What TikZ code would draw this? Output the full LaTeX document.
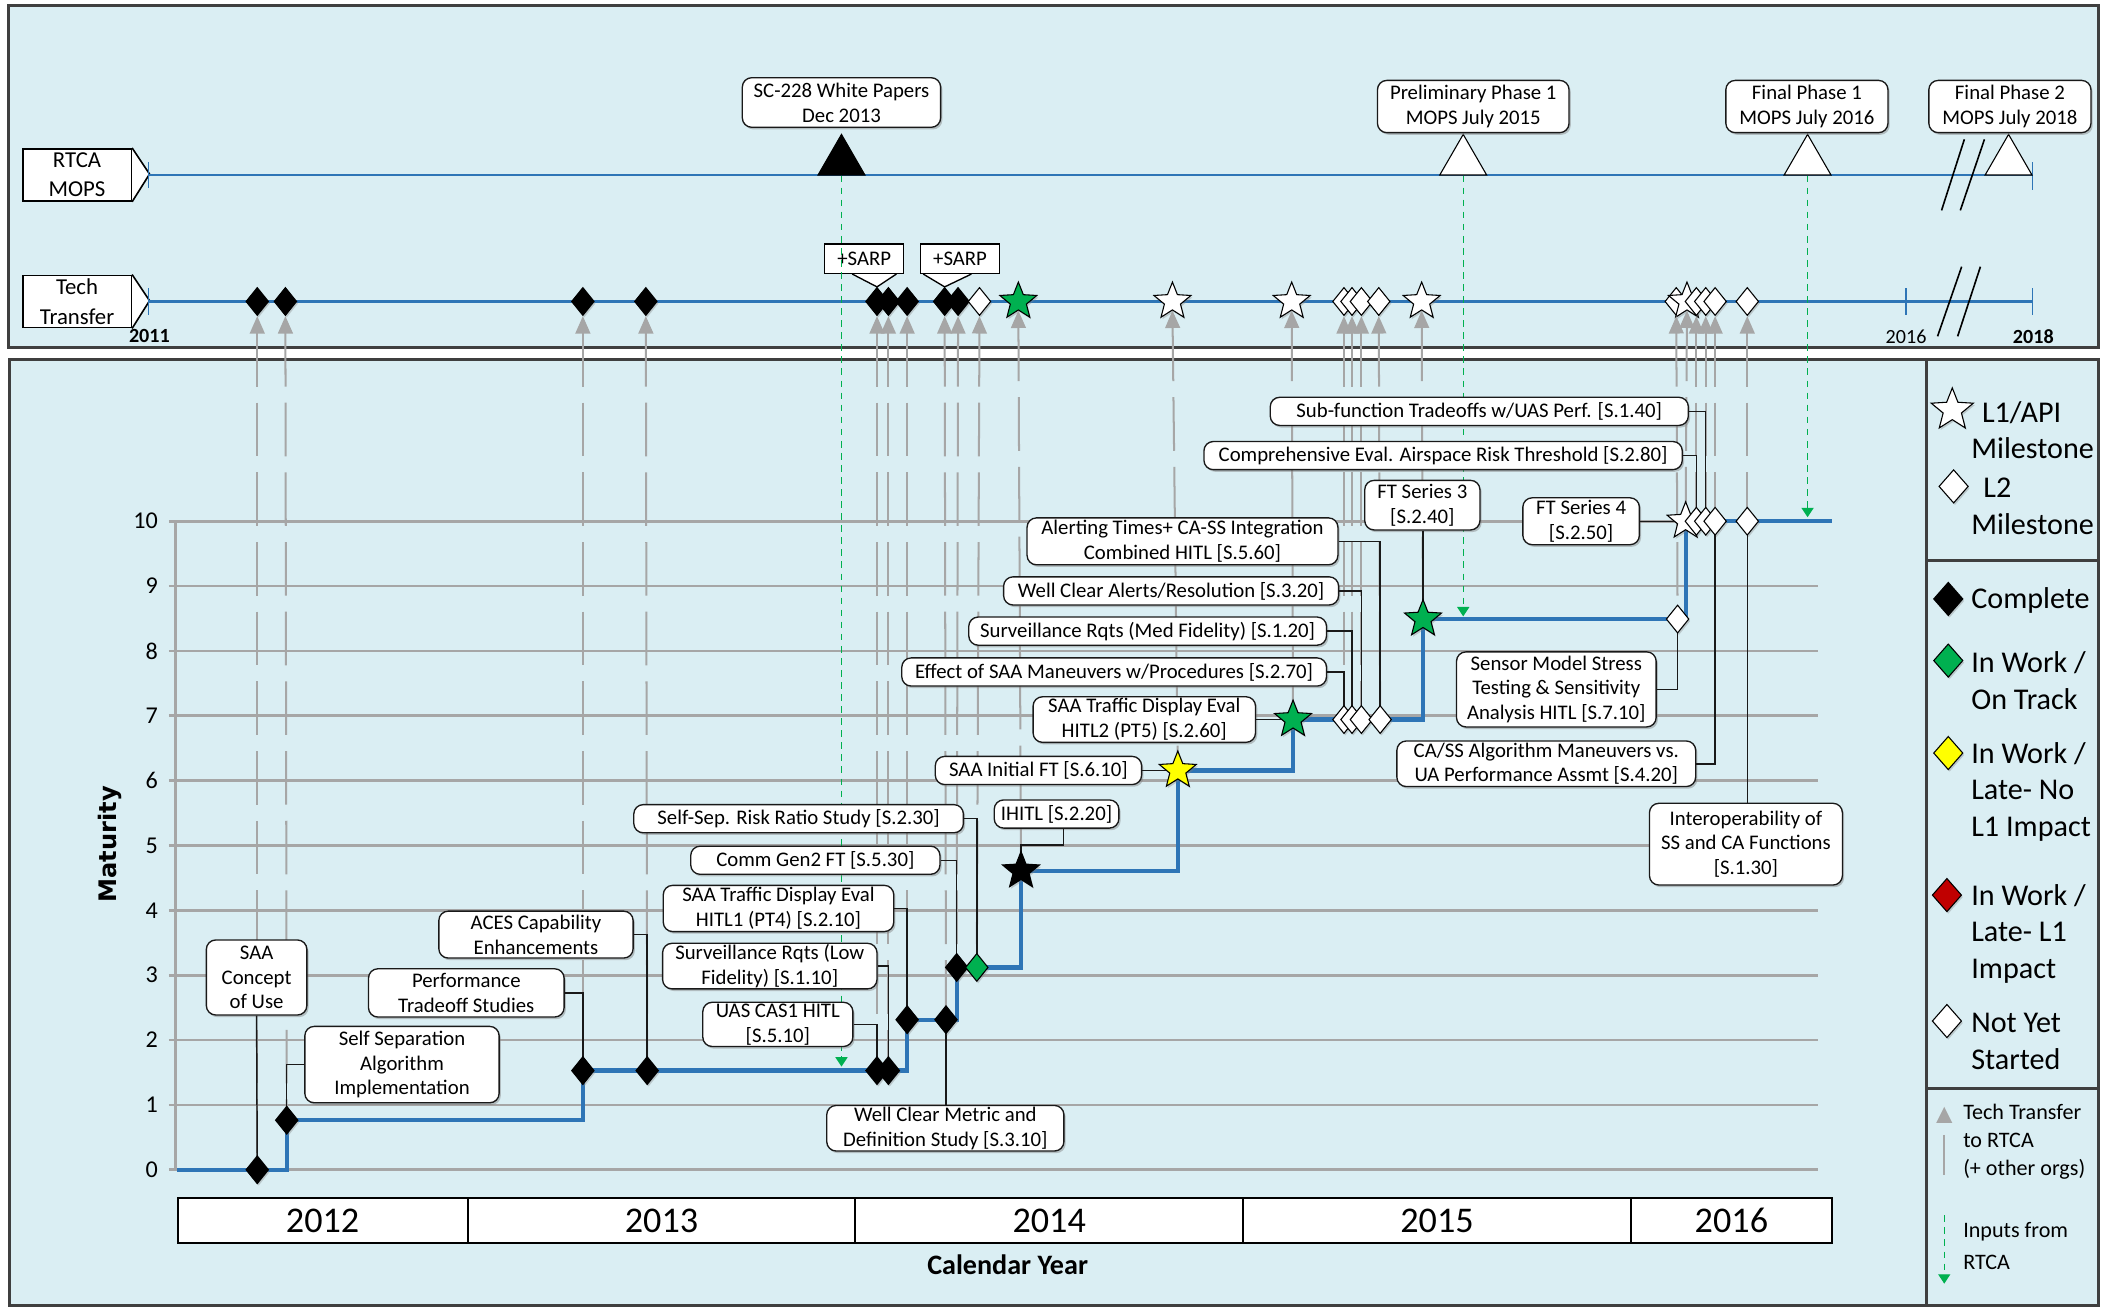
\documentclass[tikz,border=0pt]{standalone}
\usepackage{fontspec}
\setmainfont{Carlito}
\newfontfamily\matfont{DejaVu Sans}
\usepackage{tikz}
\usetikzlibrary{shapes.geometric, arrows.meta, shadows}

\definecolor{skyfill}{HTML}{DAEEF3}
\definecolor{stepblue}{HTML}{2E75B6}
\definecolor{ttgray}{HTML}{A6A6A6}
\definecolor{inpgreen}{HTML}{00B050}
\definecolor{okgreen}{HTML}{00B050}
\definecolor{lateyellow}{HTML}{FFFF00}
\definecolor{latered}{HTML}{C00000}
\definecolor{framegray}{HTML}{3F3F3F}

\newcommand{\boxfont}{\fontsize{15.5}{18.5}\selectfont}
\newcommand{\rowfont}{\fontsize{17}{22}\selectfont}
\newcommand{\legfont}{\fontsize{22.5}{27.5}\selectfont}
\newcommand{\keyfont}{\fontsize{16.5}{21}\selectfont}

\begin{document}
\begin{tikzpicture}[x=1pt, y=-1pt,
        % Define styles for panels, label boxes, markers and lines
        panel/.style={fill=skyfill, draw=framegray, line width=2.2pt},
        lbox/.style={draw=black!90, fill=white, rounded corners=7pt, align=center, inner sep=0pt,
            font=\boxfont, line width=1pt, drop shadow={shadow xshift=1.3pt, shadow yshift=-1.6pt, opacity=.45}},
        rowbox/.style={draw=black, fill=white, minimum width=81pt, minimum height=39pt,
            align=center, inner sep=0pt, font=\rowfont, line width=1.2pt},
        sarpbox/.style={draw=black, fill=white, minimum width=59pt, minimum height=22pt,
            inner sep=0pt, font=\boxfont, line width=1pt},
        mdiam/.style={diamond, draw=black, line width=.8pt, minimum width=17pt, minimum height=21pt,
            inner sep=0pt, drop shadow={shadow xshift=1pt, shadow yshift=-1.5pt, opacity=.35}},
        bdiam/.style={mdiam, fill=black},
        wdiam/.style={mdiam, fill=white},
        gdiam/.style={mdiam, fill=okgreen},
        mstar/.style={star, star points=5, star point ratio=2.3, draw=black, line width=.8pt,
            minimum size=29pt, inner sep=0pt, drop shadow={shadow xshift=1pt, shadow yshift=-1.5pt, opacity=.35}},
        wstar/.style={mstar, fill=white},
        gstar/.style={mstar, fill=okgreen},
        ystar/.style={mstar, fill=lateyellow},
        bstar/.style={mstar, fill=black},
        mopstri/.style={regular polygon, regular polygon sides=3, draw=black, line width=.8pt,
            minimum size=40.4pt, inner sep=0pt},
        rowline/.style={stepblue, line width=1.6pt},
        gridline/.style={black!35, line width=2pt},
        ttlink/.style={ttgray, line width=1.5pt, dash pattern=on 40pt off 12pt,
            {Triangle[width=11pt, length=13pt]}-},
        inlink/.style={inpgreen, line width=1pt, dash pattern=on 5pt off 4pt,
            -{Triangle[width=9pt, length=7pt]}},
        conn/.style={black!90, line width=1.1pt},
        stepline/.style={stepblue, line width=3.2pt},
        ticklbl/.style={anchor=east, inner sep=0pt, font=\fontsize{18}{20}\selectfont},
        yearcell/.style={draw=black, fill=white, line width=1.5pt, minimum height=34pt,
            inner sep=0pt, font=\fontsize{27}{30}\selectfont},
        legtxt/.style={anchor=west, align=left, inner sep=0pt, font=\legfont}]

        % 1. Page and the two panels
        \useasboundingbox (0,0) rectangle (1568,975);
        \fill[white] (0,0) rectangle (1568,975);
        \draw[panel] (6,4) rectangle (1566,259);
        \draw[panel] (7,268) rectangle (1566,974);

        % 2. Maturity grid and axis
        \foreach \v in {0,...,10} {
            \draw[gridline] (126,{873-48.4*\v}) -- (1357,{873-48.4*\v});
            \node[ticklbl] (lvl\v) at (118,{873-48.4*\v}) {\v};
        }
        \draw[gridline] (131,389) -- (131,873);

        % 3. Milestone positions on the maturity chart
        \coordinate (p1) at (192,873);
        \coordinate (p2) at (214,836);
        \coordinate (p3) at (435,799);
        \coordinate (p4) at (483,799);
        \coordinate (p5) at (654.5,799);
        \coordinate (p6) at (663,799);
        \coordinate (p7) at (677,761);
        \coordinate (p8) at (706,761);
        \coordinate (p9) at (714,722);
        \coordinate (p10) at (729,722);
        \coordinate (p11) at (762,650);
        \coordinate (p12) at (879,575);
        \coordinate (p13) at (965,537);
        \coordinate (p14) at (1003,537);
        \coordinate (p15) at (1009,537);
        \coordinate (p16) at (1016,537);
        \coordinate (p17) at (1030,537);
        \coordinate (p18) at (1062,462);
        \coordinate (p19) at (1258,389);
        \coordinate (p20) at (1273,389);
        \coordinate (p21) at (1266,389);
        \coordinate (p22) at (1280,389);
        \coordinate (p23) at (1252,462);
        \coordinate (p24) at (1304,389);
        \coordinate (s0) at (132,873);
        \coordinate (s1) at (1367,389);

        % 4. RTCA MOPS and Tech Transfer rows
        \node[rowbox] (rtcalbl) at (57.5,130.5) {RTCA\\MOPS};
        \node[rowbox] (ttlbl) at (57.5,225) {Tech\\Transfer};
        \filldraw[fill=white, draw=black, line width=1.2pt] (rtcalbl.north east) -- ++(13,19.5) -- (rtcalbl.south east);
        \filldraw[fill=white, draw=black, line width=1.2pt] (ttlbl.north east) -- ++(13,19.5) -- (ttlbl.south east);
        \coordinate (rtcastart) at (111,130.5);
        \coordinate (rtcaend) at (1517,130.5);
        \coordinate (ttstart) at (111,225);
        \coordinate (ttend) at (1517,225);
        \draw[rowline] (rtcastart) -- (rtcaend);
        \draw[rowline] (ttstart) -- (ttend);
        \draw[rowline, line width=1pt] (111,121) -- (111,140) (1517,121) -- (1517,142);
        \draw[rowline, line width=1pt] (111,215) -- (111,235) (1422.5,215) -- (1422.5,235) (1517,215) -- (1517,235);
        % break marks
        \draw[black, line width=1.2pt] (1449,157) -- (1466,104) (1463,157) -- (1481,104);
        \draw[black, line width=1.2pt] (1446,251) -- (1464,199) (1461,251) -- (1478,199);
        \node[font=\fontsize{15}{16}\selectfont\bfseries] (yr2011) at (111.5,251) {2011};
        \node[font=\fontsize{15}{16}\selectfont] (yr2016) at (1422.5,251) {2016};
        \node[font=\fontsize{15}{16}\selectfont\bfseries] (yr2018) at (1517.5,251) {2018};

        % 5. Tech Transfer markers and their links down to the chart
        \foreach \x/\sty/\n in {192/bdiam/1, 213/bdiam/2, 435/bdiam/3, 482/bdiam/4,
                654.5/bdiam/5, 663/bdiam/6, 677/bdiam/7, 705/bdiam/8, 715/bdiam/9,
                731/wdiam/10, 760/gstar/11, 875/wstar/12, 964/wstar/13,
                1003/wdiam/14, 1009/wdiam/15, 1016/wdiam/16, 1029/wdiam/17, 1061/wstar/18,
                1251/wdiam/23, 1259/wstar/19, 1266/wdiam/21, 1273/wdiam/20, 1280/wdiam/22,
                1304/wdiam/24}
            \node[\sty] (t\n) at (\x,225) {};
        \foreach \n in {1,...,24}
            \draw[ttlink] (t\n.south) -- (p\n);

        % +SARP callouts
        \node[sarpbox] (sarpa) at (645,193) {+SARP};
        \node[sarpbox] (sarpb) at (716.5,193) {+SARP};
        \filldraw[fill=white, draw=black, line width=1pt] ([xshift=-9pt]sarpa.south) -- (t5.north) -- ([xshift=24pt]sarpa.south);
        \filldraw[fill=white, draw=black, line width=1pt] ([xshift=-27.5pt]sarpb.south) -- (t8.north) -- ([xshift=8.5pt]sarpb.south);

        % 6. RTCA milestones and inputs from RTCA
        \node[mopstri, fill=black] (sctri) at (628,120.5) {};
        \node[mopstri, fill=white] (pretri) at (1092,120.5) {};
        \node[mopstri, fill=white] (fonetri) at (1349,120.5) {};
        \node[mopstri, fill=white] (ftwotri) at (1499,120.5) {};
        \node[lbox, minimum width=148pt, minimum height=37pt] (scnote) at (628,76.5) {SC-228 White Papers\\Dec 2013};
        \node[lbox, minimum width=143pt, minimum height=39pt] (prenote) at (1099.5,79.5) {Preliminary Phase 1\\MOPS July 2015};
        \node[lbox, minimum width=121pt, minimum height=39pt] (fonenote) at (1348.5,79.5) {Final Phase 1\\MOPS July 2016};
        \node[lbox, minimum width=121pt, minimum height=39pt] (ftwonote) at (1500,79.5) {Final Phase 2\\MOPS July 2018};
        \coordinate (in1) at (628,796);
        \coordinate (in2) at (1092,460);
        \coordinate (in3) at (1349,386);
        \draw[inlink] (sctri.south) -- (in1);
        \draw[inlink] (pretri.south) -- (in2);
        \draw[inlink] (fonetri.south) -- (in3);

        % 7. Maturity path
        \draw[stepline] (s0) -- (p1) -| (p2) -| (p3) -| (p7) -| (p9) -| (p11) -| (p12) -| (p13) -| (p18) -| (p19) -- (s1);

        % 8. Task boxes
        \node[lbox, minimum width=75pt, minimum height=56pt] (concept) at (191.5,729.5) {SAA\\Concept\\of Use};
        \node[lbox, minimum width=145pt, minimum height=57pt] (selfsep) at (300,794.5) {Self Separation\\Algorithm\\Implementation};
        \node[lbox, minimum width=146pt, minimum height=36pt] (perf) at (348,741) {Performance\\Tradeoff Studies};
        \node[lbox, minimum width=145pt, minimum height=35pt] (aces) at (400,697.5) {ACES Capability\\Enhancements};
        \node[lbox, minimum width=112pt, minimum height=33pt] (cas1) at (580.5,764.5) {UAS CAS1 HITL\\{}[S.5.10]};
        \node[lbox, minimum width=160pt, minimum height=34pt] (survlow) at (574.5,721) {Surveillance Rqts (Low\\Fidelity) [S.1.10]};
        \node[lbox, minimum width=172pt, minimum height=34.5pt] (hitlone) at (581,678) {SAA Traffic Display Eval\\HITL1 (PT4) [S.2.10]};
        \node[lbox, minimum width=177pt, minimum height=34pt] (wcm) at (705.5,842) {Well Clear Metric and\\Definition Study [S.3.10]};
        \node[lbox, minimum width=186pt, minimum height=21pt] (comm) at (608.5,642) {Comm Gen2 FT [S.5.30]};
        \node[lbox, minimum width=246pt, minimum height=21pt] (ssrisk) at (596,611) {Self-Sep. Risk Ratio Study [S.2.30]};
        \node[lbox, minimum width=93pt, minimum height=21pt] (ihitl) at (788.5,607.5) {IHITL [S.2.20]};
        \node[lbox, minimum width=154pt, minimum height=21pt] (sinit) at (775,575) {SAA Initial FT [S.6.10]};
        \node[lbox, minimum width=166pt, minimum height=34pt] (hitltwo) at (854,537) {SAA Traffic Display Eval\\HITL2 (PT5) [S.2.60]};
        \node[lbox, minimum width=317pt, minimum height=21pt] (effect) at (831.5,501.5) {Effect of SAA Maneuvers w/Procedures [S.2.70]};
        \node[lbox, minimum width=267pt, minimum height=21pt] (survmed) at (856.5,471) {Surveillance Rqts (Med Fidelity) [S.1.20]};
        \node[lbox, minimum width=250pt, minimum height=21pt] (wcalert) at (874,441) {Well Clear Alerts/Resolution [S.3.20]};
        \node[lbox, minimum width=232pt, minimum height=35pt] (alerting) at (882.5,404) {Alerting Times+ CA-SS Integration\\Combined HITL [S.5.60]};
        \node[lbox, minimum width=86pt, minimum height=37pt] (ftthree) at (1061.5,377) {FT Series 3\\{}[S.2.40]};
        \node[lbox, minimum width=87pt, minimum height=35pt] (ftfour) at (1180,389) {FT Series 4\\{}[S.2.50]};
        \node[lbox, minimum width=312pt, minimum height=21pt] (subf) at (1104,307) {Sub-function Tradeoffs w/UAS Perf. [S.1.40]};
        \node[lbox, minimum width=357pt, minimum height=21pt] (comp) at (1077,340) {Comprehensive Eval. Airspace Risk Threshold [S.2.80]};
        \node[lbox, minimum width=223pt, minimum height=34pt] (cass) at (1154,570) {CA/SS Algorithm Maneuvers vs.\\UA Performance Assmt [S.4.20]};
        \node[lbox, minimum width=149pt, minimum height=56pt] (sensor) at (1161.5,514.5) {Sensor Model Stress\\Testing \& Sensitivity\\Analysis HITL [S.7.10]};
        \node[lbox, minimum width=144pt, minimum height=61pt] (interop) at (1303,630) {Interoperability of\\SS and CA Functions\\{}[S.1.30]};

        % 9. Box to milestone connectors
        \draw[conn] (concept.south) -- (p1);
        \draw[conn] (selfsep.west) -| (p2);
        \draw[conn] (perf.east) -| (p3);
        \draw[conn] (aces.east) -| (p4);
        \draw[conn] (cas1.east) -| (p5);
        \draw[conn] (survlow.east) -| (p6);
        \draw[conn] (hitlone.east) -| (p7);
        \draw[conn] (p8 |- wcm.north) -- (p8);
        \draw[conn] (comm.east) -| (p9);
        \draw[conn] (ssrisk.east) -| (p10);
        \draw[conn] ([xshift=5pt]ihitl.south) -- ++(0,12) -| (p11);
        \draw[conn] (sinit.east) -- (p12);
        \draw[conn] (hitltwo.east) -- (p13);
        \draw[conn] (effect.east) -| (p14);
        \draw[conn] (survmed.east) -| (p15);
        \draw[conn] (wcalert.east) -| (p16);
        \draw[conn] (alerting.east) -| (p17);
        \draw[conn] (p18 |- ftthree.south) -- (p18);
        \draw[conn] (ftfour.east) -- (p19);
        \draw[conn] (subf.east) -| (p20);
        \draw[conn] (comp.east) -| (p21);
        \draw[conn] (cass.east) -| (p22);
        \draw[conn] (sensor.east) -| (p23);
        \draw[conn] (p24 |- interop.north) -- (p24);

        % 10. Chart milestones
        \node[bdiam] (m1) at (p1) {};
        \node[bdiam] (m2) at (p2) {};
        \node[bdiam] (m3) at (p3) {};
        \node[bdiam] (m4) at (p4) {};
        \node[bdiam] (m5) at (p5) {};
        \node[bdiam] (m6) at (p6) {};
        \node[bdiam] (m7) at (p7) {};
        \node[bdiam] (m8) at (p8) {};
        \node[bdiam] (m9) at (p9) {};
        \node[gdiam] (m10) at (p10) {};
        \node[bstar] (m11) at (p11) {};
        \node[ystar] (m12) at (p12) {};
        \node[gstar] (m13) at (p13) {};
        \node[wdiam] (m14) at (p14) {};
        \node[wdiam] (m15) at (p15) {};
        \node[wdiam] (m16) at (p16) {};
        \node[wdiam] (m17) at (p17) {};
        \node[gstar] (m18) at (p18) {};
        \node[wdiam] (m23) at (p23) {};
        \node[wstar] (m19) at (p19) {};
        \node[wdiam] (m21) at (p21) {};
        \node[wdiam] (m20) at (p20) {};
        \node[wdiam] (m22) at (p22) {};
        \node[wdiam] (m24) at (p24) {};

        % 11. Calendar years and axis titles
        \node[yearcell, minimum width=216.5pt] (y2012) at (240.75,911) {2012};
        \node[yearcell, minimum width=289.4pt] (y2013) at (493.7,911) {2013};
        \node[yearcell, minimum width=289.2pt] (y2014) at (783,911) {2014};
        \node[yearcell, minimum width=289.7pt] (y2015) at (1072.45,911) {2015};
        \node[yearcell, minimum width=149.7pt] (y2016) at (1292.15,911) {2016};
        \node[font=\fontsize{21}{24}\selectfont\bfseries] (xtitle) at (752,944) {Calendar Year};
        \node[rotate=90, font=\matfont\fontsize{18}{20}\selectfont\bfseries] (ytitle) at (82,630) {Maturity};

        % 12. Legend
        \draw[framegray, line width=2.2pt] (1438,268) -- (1438,974);
        \draw[framegray, line width=2.2pt] (1438,418.5) -- (1566,418.5);
        \draw[framegray, line width=2.2pt] (1438,812) -- (1566,812);
        \node[wstar, minimum size=33pt] (keystar) at (1457,306) {};
        \node[legtxt] (keystartxt) at (1471,321) {\hspace*{8pt}L1/API\\Milestone};
        \node[wdiam, minimum width=22pt, minimum height=25pt] (keyltwo) at (1458,363) {};
        \node[legtxt] (keyltwotxt) at (1471,378) {\hspace*{9pt}L2\\Milestone};
        \node[bdiam, minimum width=22pt, minimum height=25pt] (keydone) at (1454,447) {};
        \node[legtxt] (keydonetxt) at (1471,448) {Complete};
        \node[gdiam, minimum width=22pt, minimum height=25pt] (keyok) at (1454,493) {};
        \node[legtxt] (keyoktxt) at (1471,508) {In Work /\\On Track};
        \node[mdiam, fill=lateyellow, minimum width=22pt, minimum height=25pt] (keylate) at (1454,562) {};
        \node[legtxt] (keylatetxt) at (1471,591) {In Work /\\Late- No\\L1 Impact};
        \node[mdiam, fill=latered, minimum width=22pt, minimum height=25pt] (keyimp) at (1453,668) {};
        \node[legtxt] (keyimptxt) at (1471,697) {In Work /\\Late- L1\\Impact};
        \node[wdiam, minimum width=22pt, minimum height=25pt] (keynew) at (1453,762) {};
        \node[legtxt] (keynewtxt) at (1471,777) {Not Yet\\Started};
        \fill[ttgray] (1445,838) -- (1451,826) -- (1457,838) -- cycle;
        \draw[ttgray, line width=1.5pt] (1451,847) -- (1451,877);
        \node[legtxt, font=\keyfont] (keyttxt) at (1465,852) {Tech Transfer\\to RTCA\\(+ other orgs)};
        \draw[inlink] (1451,907) -- (1451,958);
        \node[legtxt, font=\fontsize{16.5}{24}\selectfont] (keyintxt) at (1465,930) {Inputs from\\RTCA};

\end{tikzpicture}
\end{document}
